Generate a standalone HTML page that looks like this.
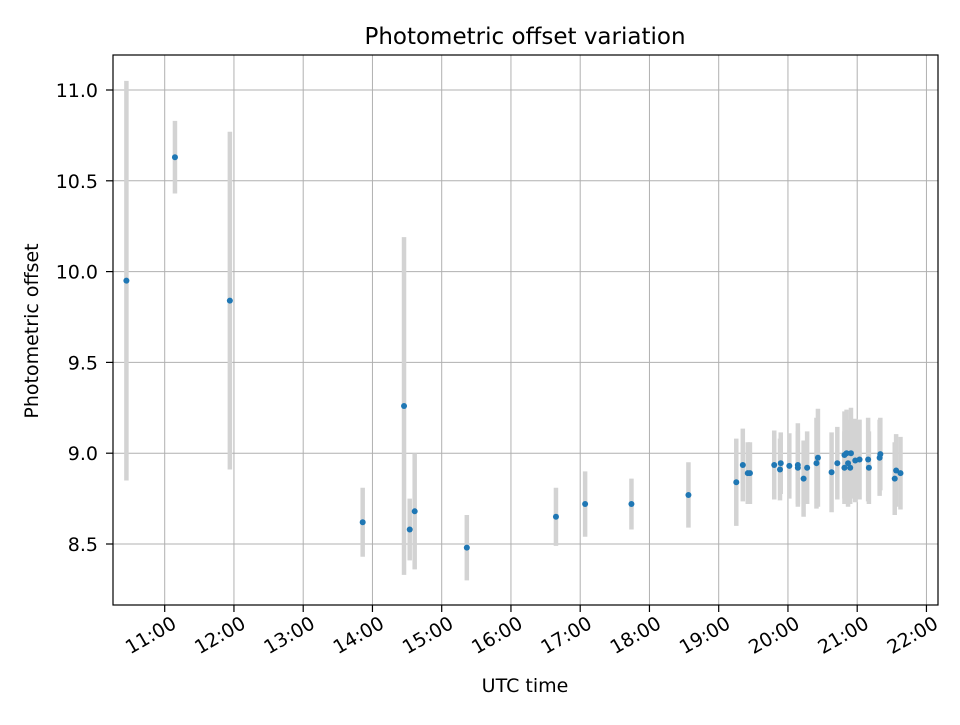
<!DOCTYPE html>
<html><head><meta charset="utf-8"><style>
body{margin:0;background:#fff;}
svg text{font-family:"DejaVu Sans","Liberation Sans",sans-serif;fill:#000;}
</style></head><body>
<svg id="chart" width="960" height="720" xmlns="http://www.w3.org/2000/svg">
<rect width="960" height="720" fill="#fff"/>
<text x="525" y="44" font-size="23" text-anchor="middle">Photometric offset variation</text>
<text x="525" y="692" font-size="19" text-anchor="middle">UTC time</text>
<text x="0" y="0" font-size="19" text-anchor="middle" transform="translate(38,331) rotate(-90)">Photometric offset</text>
<g id="grid"></g><g id="bars"></g><g id="pts"></g><g id="axes"></g>
</svg>
<script>
const hours=[10.447,11.148,11.941,13.859,14.456,14.538,14.61,15.363,16.65,17.071,17.74,18.563,19.254,19.348,19.42,19.451,19.802,19.896,19.885,20.02,20.143,20.143,20.226,20.277,20.433,20.412,20.63,20.713,20.816,20.847,20.91,20.868,20.816,20.899,20.972,21.034,21.158,21.169,21.324,21.334,21.542,21.562,21.625];
const offsets=[9.95,10.63,9.84,8.62,9.26,8.58,8.68,8.48,8.65,8.72,8.72,8.77,8.84,8.935,8.89,8.89,8.935,8.945,8.91,8.93,8.935,8.92,8.86,8.92,8.975,8.945,8.895,8.945,8.99,9.0,9.0,8.945,8.92,8.92,8.96,8.965,8.965,8.92,8.975,8.995,8.86,8.905,8.89];
const errors=[1.1,0.2,0.93,0.19,0.93,0.17,0.32,0.18,0.16,0.18,0.14,0.18,0.24,0.2,0.17,0.17,0.19,0.17,0.17,0.18,0.23,0.2,0.21,0.2,0.27,0.25,0.22,0.2,0.24,0.24,0.25,0.24,0.2,0.2,0.23,0.22,0.23,0.2,0.21,0.2,0.2,0.2,0.2];
const xTicks=[11,12,13,14,15,16,17,18,19,20,21,22];
const xTickLabels=["11:00","12:00","13:00","14:00","15:00","16:00","17:00","18:00","19:00","20:00","21:00","22:00"];
const yTicks=[8.5,9.0,9.5,10.0,10.5,11.0];
const yTickLabels=["8.5","9.0","9.5","10.0","10.5","11.0"];
const L=113,R=938,T=55,B=605;
const X=h=>164.7+(h-11)*69.25;
const Y=v=>544-(v-8.5)*181.6;
const NS="http://www.w3.org/2000/svg";
function mk(parent,tag,attrs){const e=document.createElementNS(NS,tag);for(const k in attrs)e.setAttribute(k,attrs[k]);document.getElementById(parent).appendChild(e);return e;}
xTicks.forEach((t,i)=>{
 const x=X(t);
 const g=mk('grid','line',{x1:x,x2:x,y1:T,y2:B,stroke:'#b0b0b0','stroke-width':1});
 
 
 const tk=mk('axes','line',{x1:x,x2:x,y1:B,y2:B+7,stroke:'#000','stroke-width':1.2});
 
 
 const tx=mk('axes','text',{x:0,y:14,'font-size':19,'text-anchor':'end',transform:`translate(${x+6},${B+10}) rotate(-30)`});
 tx.textContent=xTickLabels[i];
 
 
});
yTicks.forEach((t,i)=>{
 const y=Y(t);
 const g=mk('grid','line',{x1:L,x2:R,y1:y,y2:y,stroke:'#b0b0b0','stroke-width':1});
 
 
 const tk=mk('axes','line',{x1:L-7,x2:L,y1:y,y2:y,stroke:'#000','stroke-width':1.2});
 
 
 const tx=mk('axes','text',{x:L-15,y:y+7,'font-size':19,'text-anchor':'end'});
 tx.textContent=yTickLabels[i];
 
 
});
const frame=mk('axes','rect',{x:L,y:T,width:R-L,height:B-T,fill:'none',stroke:'#000','stroke-width':1.2});


hours.forEach((h,i)=>{
 const b=mk('bars','line',{x1:X(h),x2:X(h),y1:Y(offsets[i]+errors[i]),y2:Y(offsets[i]-errors[i]),stroke:'#d3d3d3','stroke-width':4.5});
 
 
 const c=mk('pts','circle',{cx:X(h),cy:Y(offsets[i]),r:3,fill:'#1f77b4'});
 
 
});
</script>
</body></html>
